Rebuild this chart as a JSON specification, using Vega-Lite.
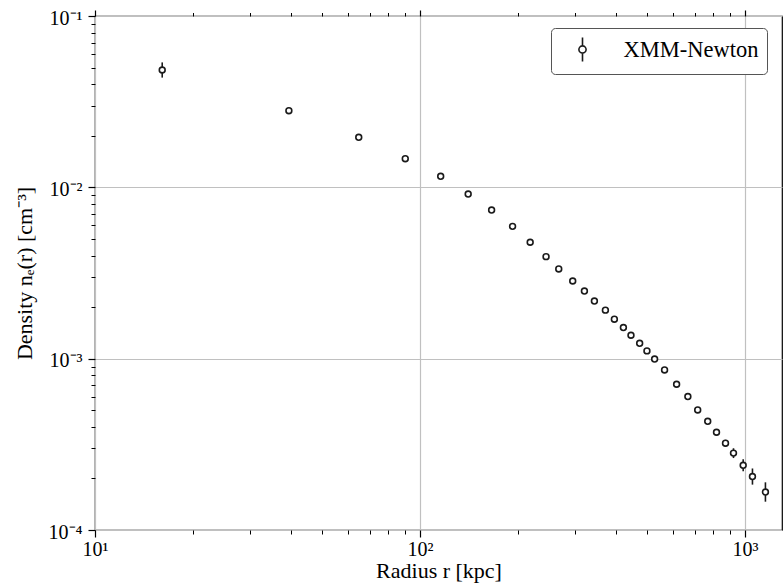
{
  "$schema": "https://vega.github.io/schema/vega-lite/v6.json",
  "autosize": "none",
  "width": 687,
  "height": 514,
  "padding": {"left": 95, "top": 16, "right": 1, "bottom": 58},
  "background": "white",
  "config": {
    "view": {"stroke": "black", "strokeWidth": 1.2},
    "axis": {
      "labelFont": "Liberation Serif",
      "titleFont": "Liberation Serif",
      "labelColor": "black",
      "titleColor": "black",
      "tickColor": "black",
      "titleFontWeight": "normal",
      "domain": false,
      "labelFlush": false,
      "labelOverlap": false,
      "labelBound": false
    }
  },
  "data": {
    "values": [
      {"r": 16.1, "ne": 0.0484, "ne_lo": 0.0437, "ne_hi": 0.0536},
      {"r": 39.5, "ne": 0.0280, "ne_lo": 0.0272, "ne_hi": 0.0288},
      {"r": 64.8, "ne": 0.0196, "ne_lo": 0.0191, "ne_hi": 0.0201},
      {"r": 90.1, "ne": 0.0147, "ne_lo": 0.0143, "ne_hi": 0.0151},
      {"r": 115.8, "ne": 0.0116, "ne_lo": 0.0113, "ne_hi": 0.0119},
      {"r": 140.7, "ne": 0.00914, "ne_lo": 0.0089, "ne_hi": 0.00938},
      {"r": 166.1, "ne": 0.00737, "ne_lo": 0.00718, "ne_hi": 0.00756},
      {"r": 192.7, "ne": 0.00592, "ne_lo": 0.00577, "ne_hi": 0.00607},
      {"r": 218.3, "ne": 0.00478, "ne_lo": 0.00466, "ne_hi": 0.0049},
      {"r": 244.3, "ne": 0.00394, "ne_lo": 0.00384, "ne_hi": 0.00404},
      {"r": 267.3, "ne": 0.00334, "ne_lo": 0.00325, "ne_hi": 0.00343},
      {"r": 295.1, "ne": 0.00284, "ne_lo": 0.00276, "ne_hi": 0.00292},
      {"r": 320.6, "ne": 0.00248, "ne_lo": 0.00241, "ne_hi": 0.00255},
      {"r": 344.1, "ne": 0.00217, "ne_lo": 0.00211, "ne_hi": 0.00223},
      {"r": 372.0, "ne": 0.00192, "ne_lo": 0.00187, "ne_hi": 0.00197},
      {"r": 396.4, "ne": 0.0017, "ne_lo": 0.00165, "ne_hi": 0.00175},
      {"r": 422.6, "ne": 0.00152, "ne_lo": 0.00148, "ne_hi": 0.00156},
      {"r": 445.9, "ne": 0.00137, "ne_lo": 0.00133, "ne_hi": 0.00141},
      {"r": 474.2, "ne": 0.00123, "ne_lo": 0.00119, "ne_hi": 0.00127},
      {"r": 499.3, "ne": 0.00111, "ne_lo": 0.00107, "ne_hi": 0.00115},
      {"r": 527.2, "ne": 0.000995, "ne_lo": 0.000963, "ne_hi": 0.001027},
      {"r": 565.7, "ne": 0.000859, "ne_lo": 0.000831, "ne_hi": 0.000887},
      {"r": 616.1, "ne": 0.000709, "ne_lo": 0.000685, "ne_hi": 0.000733},
      {"r": 667.3, "ne": 0.000601, "ne_lo": 0.00058, "ne_hi": 0.000622},
      {"r": 715.4, "ne": 0.000502, "ne_lo": 0.000484, "ne_hi": 0.00052},
      {"r": 768.1, "ne": 0.000431, "ne_lo": 0.000414, "ne_hi": 0.000448},
      {"r": 817.4, "ne": 0.000372, "ne_lo": 0.000356, "ne_hi": 0.000388},
      {"r": 871.2, "ne": 0.000321, "ne_lo": 0.000306, "ne_hi": 0.000336},
      {"r": 921.9, "ne": 0.000281, "ne_lo": 0.000263, "ne_hi": 0.0003},
      {"r": 987.4, "ne": 0.0002385, "ne_lo": 0.00022, "ne_hi": 0.0002585},
      {"r": 1054.5, "ne": 0.0002052, "ne_lo": 0.000184, "ne_hi": 0.0002286},
      {"r": 1156, "ne": 0.0001666, "ne_lo": 0.0001463, "ne_hi": 0.0001898}
    ]
  },
  "resolve": {"axis": {"x": "independent", "y": "independent"}},
  "layer": [
    {
      "mark": {"type": "rule", "color": "#1a1a1a", "strokeWidth": 1.6},
      "encoding": {
        "x": {
          "field": "r", "type": "quantitative",
          "scale": {"type": "log", "domain": [10, 1300], "nice": false},
          "axis": {
            "orient": "bottom",
            "values": [10, 100, 1000],
            "grid": true, "gridColor": "#c0c0c0", "gridWidth": 1.2,
            "tickSize": 7, "tickWidth": 1.2,
            "labelExpr": "datum.value < 50 ? '10¹' : datum.value < 500 ? '10²' : '10³'",
            "labelFontSize": 20, "labelBaseline": "alphabetic", "labelPadding": 18,
            "title": "Radius r [kpc]", "titleFontSize": 22,
            "titleBaseline": "alphabetic", "titleY": 47
          }
        },
        "y": {
          "field": "ne_lo", "type": "quantitative",
          "scale": {"type": "log", "domain": [0.0001, 0.1], "nice": false},
          "axis": {
            "orient": "left",
            "values": [0.0001, 0.001, 0.01, 0.1],
            "grid": true, "gridColor": "#c0c0c0", "gridWidth": 1.2,
            "tickSize": 7, "tickWidth": 1.2,
            "labelExpr": "datum.value < 0.0005 ? '10⁻⁴' : datum.value < 0.005 ? '10⁻³' : datum.value < 0.05 ? '10⁻²' : '10⁻¹'",
            "labelFontSize": 20, "labelBaseline": "alphabetic", "labelOffset": 8, "labelPadding": 6,
            "title": "Density nₑ(r) [cm⁻³]", "titleFontSize": 22, "titlePadding": 12
          }
        },
        "y2": {"field": "ne_hi"}
      }
    },
    {
      "mark": {"type": "point", "shape": "circle", "filled": false, "fill": "white", "size": 34, "strokeWidth": 1.6, "opacity": 1},
      "encoding": {
        "x": {
          "field": "r", "type": "quantitative",
          "scale": {"type": "log", "domain": [10, 1300], "nice": false},
          "axis": {
            "orient": "bottom",
            "values": [20, 30, 40, 50, 60, 70, 80, 90, 200, 300, 400, 500, 600, 700, 800, 900],
            "grid": false, "labels": false, "tickSize": 4, "tickWidth": 1, "title": null
          }
        },
        "y": {
          "field": "ne", "type": "quantitative",
          "scale": {"type": "log", "domain": [0.0001, 0.1], "nice": false},
          "axis": {
            "orient": "left",
            "values": [0.0002, 0.0003, 0.0004, 0.0005, 0.0006, 0.0007, 0.0008, 0.0009, 0.002, 0.003, 0.004, 0.005, 0.006, 0.007, 0.008, 0.009, 0.02, 0.03, 0.04, 0.05, 0.06, 0.07, 0.08, 0.09],
            "grid": false, "labels": false, "tickSize": 4, "tickWidth": 1, "title": null
          }
        },
        "color": {
          "datum": "XMM-Newton",
          "type": "nominal",
          "scale": {"range": ["#1a1a1a"]},
          "legend": {
            "orient": "none", "legendX": 456, "legendY": 12,
            "title": null,
            "symbolType": "M0,-1L0,-0.3M0,0.3L0,1M0.3,0A0.3,0.3,0,1,1,-0.3,0A0.3,0.3,0,1,1,0.3,0Z",
            "symbolSize": 576,
            "symbolStrokeWidth": 1.6,
            "symbolFillColor": "white",
            "symbolOffset": 10,
            "labelFont": "Liberation Serif", "labelFontSize": 22.5, "labelColor": "black",
            "labelOffset": 28,
            "padding": 8.5,
            "strokeColor": "#555555",
            "fillColor": "white",
            "cornerRadius": 4
          }
        }
      }
    },
    {
      "mark": {"type": "point", "opacity": 0},
      "encoding": {
        "x": {
          "field": "r", "type": "quantitative",
          "scale": {"type": "log", "domain": [10, 1300], "nice": false},
          "axis": {
            "orient": "top", "values": [10, 100, 1000],
            "grid": false, "labels": false, "tickSize": 6, "tickWidth": 1.2, "title": null
          }
        },
        "y": {
          "field": "ne", "type": "quantitative",
          "scale": {"type": "log", "domain": [0.0001, 0.1], "nice": false},
          "axis": null
        }
      }
    },
    {
      "mark": {"type": "point", "opacity": 0},
      "encoding": {
        "x": {
          "field": "r", "type": "quantitative",
          "scale": {"type": "log", "domain": [10, 1300], "nice": false},
          "axis": {
            "orient": "top",
            "values": [20, 30, 40, 50, 60, 70, 80, 90, 200, 300, 400, 500, 600, 700, 800, 900],
            "grid": false, "labels": false, "tickSize": 3.5, "tickWidth": 1, "title": null
          }
        },
        "y": {
          "field": "ne", "type": "quantitative",
          "scale": {"type": "log", "domain": [0.0001, 0.1], "nice": false},
          "axis": null
        }
      }
    }
  ]
}
